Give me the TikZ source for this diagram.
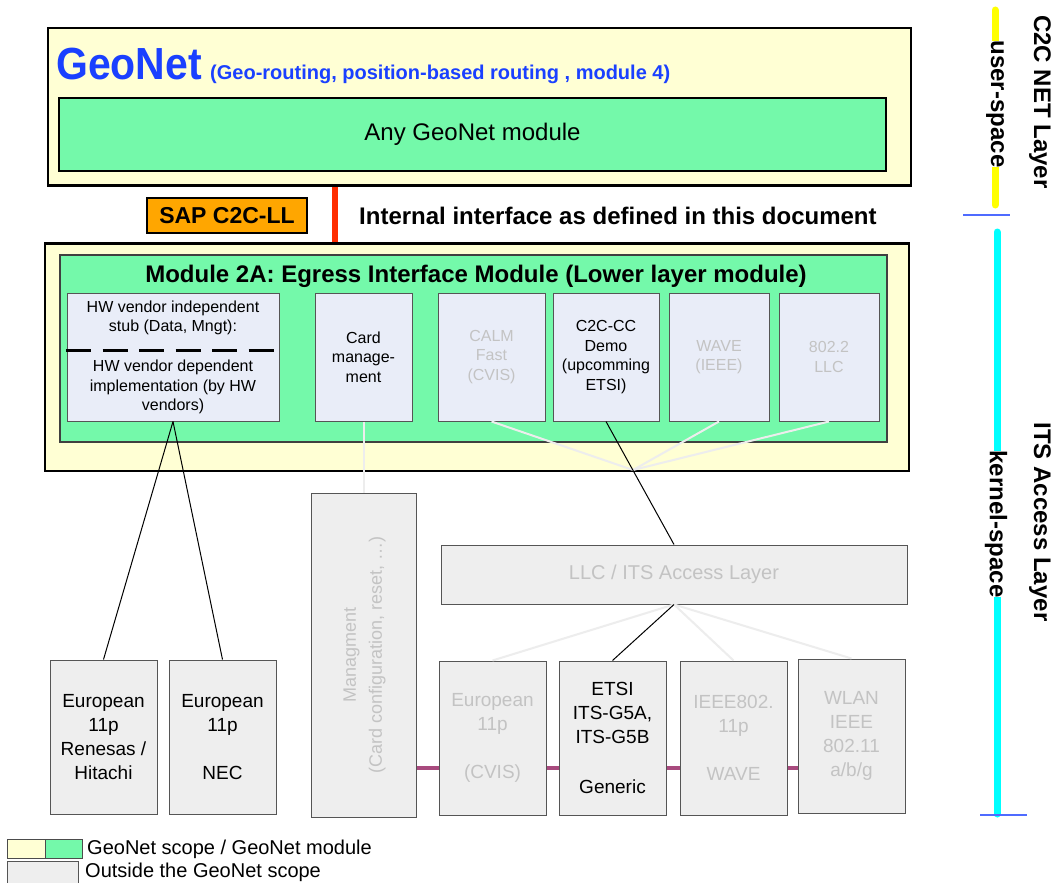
\documentclass[tikz,border=0pt]{standalone}
\usepackage{fontspec}
\setmainfont{Liberation Sans}
\newfontfamily\narrowfont[FakeStretch=0.91]{Liberation Sans}
\usetikzlibrary{calc}

\definecolor{geoyellow}{HTML}{FFFFD4}
\definecolor{geogreen}{HTML}{74F9AA}
\definecolor{subfill}{HTML}{E9EDF8}
\definecolor{outfill}{HTML}{EEEEEE}
\definecolor{boxedge}{HTML}{555555}
\definecolor{greytext}{HTML}{C3C3C3}
\definecolor{paleline}{HTML}{EDEDED}
\definecolor{phyline}{HTML}{A84A7E}
\definecolor{saporange}{HTML}{FFA600}
\definecolor{ifred}{HTML}{FF2D00}
\definecolor{geoblue}{HTML}{1A40FF}
\definecolor{userline}{HTML}{FFFF00}
\definecolor{kernline}{HTML}{00FFFF}
\definecolor{tickblue}{HTML}{4F6BFF}

\begin{document}
\begin{tikzpicture}[x=1pt,y=-1pt,
  scopebox/.style={draw=black, line width=2pt, fill=geoyellow, inner sep=0pt, anchor=north west},
  modbox/.style={draw=black!75, line width=1.5pt, fill=geogreen, inner sep=0pt, anchor=north west},
  subbox/.style={draw=boxedge, line width=1pt, fill=subfill, align=center, inner sep=0pt,
    minimum height=128, font=\fontsize{16}{19.5}\selectfont},
  outbox/.style={draw=boxedge, line width=1pt, fill=outfill, align=center, inner sep=0pt,
    minimum width=107, minimum height=154, font=\fontsize{19}{24}\selectfont},
  plain/.style={inner sep=0pt, align=center},
  sidelabel/.style={rotate=-90, inner sep=0pt, font=\bfseries\fontsize{24}{27}\selectfont},
  blackline/.style={draw=black, line width=1pt},
  paleconn/.style={draw=paleline, line width=2pt},
  busline/.style={draw=phyline, line width=3.5pt},
  hwdash/.style={draw=black, line width=3pt, dash pattern=on 25pt off 11.5pt},
  legendbox/.style={draw=black!70, line width=1pt, inner sep=0pt, anchor=north west},
  tick/.style={draw=tickblue, line width=1.2pt}
]
\useasboundingbox (0,0) rectangle (1053,883);
\fill[white] (0,0) rectangle (1053,883);

% interface line between the two layers
\coordinate (ifx) at (335,0);

% ---------- GeoNet layer ----------
\node[scopebox, minimum width=863, minimum height=157] (netscope) at (47,27) {};
\node[plain, anchor=base west, text=geoblue, font=\narrowfont\bfseries\fontsize{45}{50}\selectfont]
  (geonet) at (56,80) {GeoNet};
\node[plain, anchor=base west, text=geoblue, font=\bfseries\fontsize{20}{24}\selectfont]
  (geosub) at (210,80) {(Geo-routing, position-based routing , module 4)};
\node[draw=black, line width=2pt, fill=geogreen, inner sep=0pt, anchor=north west,
  minimum width=827, minimum height=73, font=\fontsize{24}{28}\selectfont]
  (anymod) at (58,97) {Any GeoNet module};

% ---------- Lower layer scope ----------
\node[scopebox, minimum width=864, minimum height=227] (lowscope) at (44,243) {};
\draw[ifred, line width=6pt] (netscope.south -| ifx) -- (lowscope.north -| ifx);
\draw[line width=2pt] (netscope.south west) -- (netscope.south east);
\draw[line width=2pt] (lowscope.north west) -- (lowscope.north east);

\node[draw=black, line width=1.5pt, fill=saporange, inner sep=0pt, minimum width=160,
  minimum height=35, font=\bfseries\fontsize{23}{26}\selectfont]
  (sap) at (227,215.5) {SAP C2C-LL};
\node[plain, anchor=west, font=\bfseries\fontsize{24}{28}\selectfont]
  (iftext) at (359,216) {Internal interface as defined in this document};

\node[modbox, minimum width=827, minimum height=187] (egress) at (59,254) {};
\node[plain, font=\bfseries\fontsize{24}{27}\selectfont]
  (egtitle) at (476,276) {Module 2A: Egress Interface Module (Lower layer module)};

% sub-modules
\node[subbox, minimum width=212] (hw) at (173,357) {};
\node[plain, font=\fontsize{16}{19.5}\selectfont] (hwstub) at (173,318)
  {HW vendor independent\\stub (Data, Mngt):};
\node[plain, font=\fontsize{16}{19.5}\selectfont] (hwimpl) at (173,387)
  {HW vendor dependent\\implementation (by HW\\vendors)};
\draw[hwdash] (66,350) -- (274,350);

\node[subbox, minimum width=97] (card) at (363.5,357) {Card\\manage-\\ment};
\node[subbox, minimum width=107, text=greytext] (calm) at (491.5,357) {CALM\\Fast\\(CVIS)};
\node[subbox, minimum width=106] (demo) at (606,357) {C2C-CC\\Demo\\(upcomming\\ETSI)};
\node[subbox, minimum width=100, text=greytext] (wave) at (719,357) {WAVE\\(IEEE)};
\node[subbox, minimum width=100, text=greytext] (llctwo) at (829,357) {802.2\\LLC};

% ---------- Access layer ----------
\node[outbox, minimum width=466, minimum height=59, text=greytext,
  font=\fontsize{20}{24}\selectfont] (llc) at (674,574.5) {LLC / ITS Access Layer};

\node[outbox] (renesas) at (103.5,737) {European\\11p\\Renesas /\\Hitachi};
\node[outbox] (nec) at (222.5,737) {European\\11p\\[24pt]NEC};
\node[outbox, minimum width=105, minimum height=324] (mgmt) at (363.5,655) {};
\node[plain, rotate=90, text=greytext, font=\fontsize{18}{26}\selectfont]
  (mgmttext) at ($(mgmt.center)+(1,0)$) {Managment\\(Card configuration, reset, \dots)};
\node[outbox, text=greytext] (cvis) at (492.5,738) {European\\11p\\[24pt](CVIS)};
\node[outbox] (etsi) at (612.5,738) {ETSI\\ITS-G5A,\\ITS-G5B\\[26pt]Generic};
\node[outbox, text=greytext] (ieee) at (733.5,738) {IEEE802.\\11p\\[24pt]WAVE};
\node[outbox, text=greytext] (wlan) at (851.5,736) {WLAN\\IEEE\\802.11\\a/b/g};

% ---------- connectors ----------
\coordinate (conv) at (633,470);
\draw[paleconn] (calm.south) -- (conv);
\draw[paleconn] (wave.south) -- (conv);
\draw[paleconn] (llctwo.south) -- (conv);
\draw[blackline] (demo.south) -- (llc.north);
\draw[paleconn] (card.south) -- (mgmt.north);
\draw[blackline] (hw.south) -- (renesas.north);
\draw[blackline] (hw.south) -- (nec.north);

\draw[paleconn] (llc.south) -- (cvis.north);
\draw[paleconn] (llc.south) -- (ieee.north);
\draw[paleconn] (llc.south) -- (wlan.north);
\draw[blackline] (llc.south) -- (etsi.north);

\coordinate (busy) at (0,768);
\draw[busline] (mgmt.east |- busy) -- (cvis.west |- busy);
\draw[busline] (cvis.east |- busy) -- (etsi.west |- busy);
\draw[busline] (etsi.east |- busy) -- (ieee.west |- busy);
\draw[busline] (ieee.east |- busy) -- (wlan.west |- busy);

% ---------- layer scale on the right ----------
\coordinate (usertop) at (995,10);
\coordinate (userbot) at (995,205);
\draw[userline, line width=7pt, line cap=round] (usertop) -- (userbot);
\node[sidelabel, fill=white] (userspace) at (995,104) {user-space};
\coordinate (tickatl) at (963,215);
\coordinate (tickatr) at (1010,215);
\draw[tick] (tickatl) -- (tickatr);
\coordinate (kerntop) at (997,232);
\coordinate (kernbot) at (997,814);
\draw[kernline, line width=7pt, line cap=round] (kerntop) -- (kernbot);
\node[sidelabel, fill=white] (kernelspace) at (996,524) {kernel-space};
\coordinate (tickbl) at (980,815);
\coordinate (tickbr) at (1027,815);
\draw[tick] (tickbl) -- (tickbr);
\node[sidelabel] (c2cnet) at (1040,102) {C2C NET Layer};
\node[sidelabel] (itsaccess) at (1040,522) {ITS Access Layer};

% ---------- legend ----------
\node[legendbox, fill=geoyellow, minimum width=38, minimum height=19] (legyellow) at (7,839) {};
\node[legendbox, fill=geogreen, minimum width=37, minimum height=19] (leggreen) at (45,839) {};
\node[plain, anchor=west, font=\fontsize{20}{24}\selectfont] (legtextone) at (87,849.5)
  {GeoNet scope / GeoNet module};
\node[legendbox, draw=boxedge, fill=outfill, minimum width=71, minimum height=24] (legout) at (7,861) {};
\node[plain, anchor=west, font=\fontsize{20}{24}\selectfont] (legtexttwo) at (85,872)
  {Outside the GeoNet scope};
\end{tikzpicture}
\end{document}
